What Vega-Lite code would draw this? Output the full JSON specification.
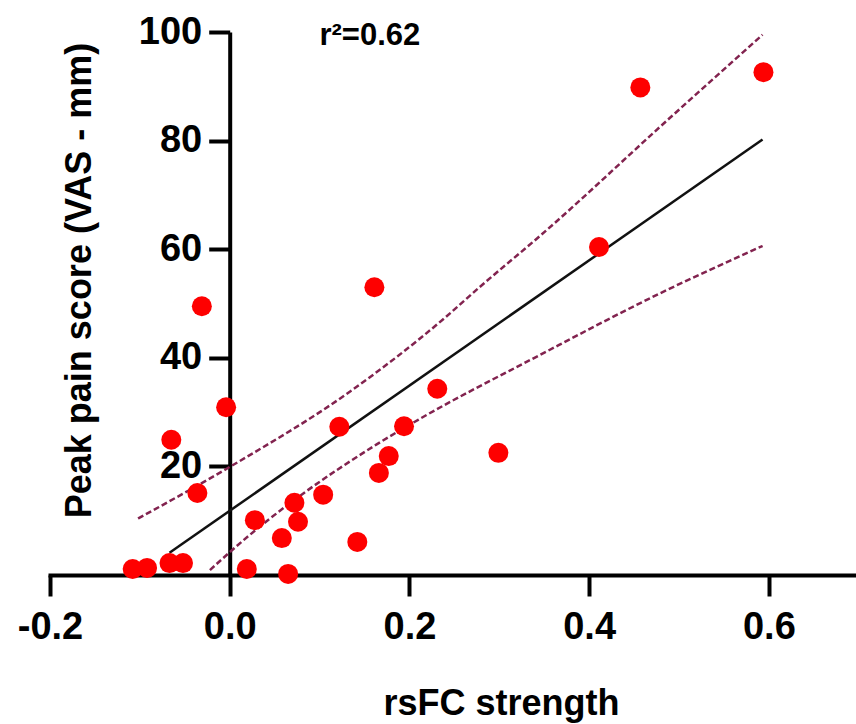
{
  "$schema": "https://vega.github.io/schema/vega-lite/v6.json",
  "width": 806,
  "height": 543,
  "autosize": {"type": "none"},
  "padding": {"left": 50, "top": 32, "right": 0, "bottom": 149},
  "background": "white",
  "config": {"view": {"stroke": null}, "font": "Liberation Sans"},
  "datasets": {
    "points": [
      {"x": 0.594, "y": 92.6}, {"x": 0.457, "y": 89.8}, {"x": 0.411, "y": 60.4},
      {"x": 0.161, "y": 53.0}, {"x": -0.031, "y": 49.5}, {"x": -0.004, "y": 30.9},
      {"x": 0.231, "y": 34.3}, {"x": 0.122, "y": 27.3}, {"x": 0.194, "y": 27.4},
      {"x": -0.065, "y": 24.9}, {"x": 0.177, "y": 21.9}, {"x": 0.166, "y": 18.8},
      {"x": 0.299, "y": 22.5}, {"x": -0.036, "y": 15.1}, {"x": 0.104, "y": 14.8},
      {"x": 0.072, "y": 13.3}, {"x": 0.076, "y": 9.8}, {"x": 0.028, "y": 10.1},
      {"x": 0.058, "y": 6.8}, {"x": 0.142, "y": 6.1}, {"x": 0.019, "y": 1.1},
      {"x": 0.065, "y": 0.2}, {"x": -0.108, "y": 1.1}, {"x": -0.092, "y": 1.3},
      {"x": -0.067, "y": 2.2}, {"x": -0.052, "y": 2.2}
    ],
    "fit": [{"x": -0.067, "y": 4.1}, {"x": 0.593, "y": 80.2}],
    "upper": [
      {"x": -0.102, "y": 10.4}, {"x": 0.0, "y": 19.9}, {"x": 0.134, "y": 33.8},
      {"x": 0.239, "y": 47.3}, {"x": 0.278, "y": 53.0}, {"x": 0.345, "y": 62.4},
      {"x": 0.49, "y": 84.2}, {"x": 0.593, "y": 99.5}
    ],
    "lower": [
      {"x": -0.022, "y": 0.9}, {"x": 0.0, "y": 4.2}, {"x": 0.164, "y": 24.1},
      {"x": 0.211, "y": 28.7}, {"x": 0.345, "y": 40.5}, {"x": 0.478, "y": 51.8},
      {"x": 0.593, "y": 60.6}
    ],
    "note": [{"x": 0.156, "y": 97.6, "label": "r²=0.62"}]
  },
  "encoding": {
    "x": {
      "field": "x", "type": "quantitative",
      "scale": {"domain": [-0.2, 0.697], "nice": false, "zero": false},
      "axis": {
        "values": [-0.2, 0, 0.2, 0.4, 0.6],
        "labelExpr": "datum.value < 0 ? '-' + format(-datum.value, '.1f') : format(datum.value, '.1f')",
        "title": "rsFC strength",
        "grid": false, "zindex": 0,
        "domainColor": "black", "domainWidth": 4, "domainCap": "square",
        "tickColor": "black", "tickWidth": 4, "tickSize": 21,
        "labelFont": "Liberation Sans", "labelFontSize": 38, "labelFontWeight": "bold",
        "labelColor": "black", "labelPadding": 12, "labelFlush": false, "labelOverlap": false,
        "titleFont": "Liberation Sans", "titleFontSize": 36, "titleFontWeight": "bold",
        "titleColor": "black", "titleX": 451, "titleY": 139,
        "titleBaseline": "alphabetic", "titleAlign": "center"
      }
    },
    "y": {
      "field": "y", "type": "quantitative",
      "scale": {"domain": [0, 100], "nice": false},
      "axis": {
        "values": [20, 40, 60, 80, 100],
        "offset": -179.7,
        "title": "Peak pain score (VAS - mm)",
        "grid": false, "zindex": 0,
        "domainColor": "black", "domainWidth": 4,
        "tickColor": "black", "tickWidth": 4, "tickSize": 21,
        "labelFont": "Liberation Sans", "labelFontSize": 38, "labelFontWeight": "bold",
        "labelColor": "black", "labelPadding": 7, "labelFlush": false, "labelOverlap": false,
        "titleFont": "Liberation Sans", "titleFontSize": 36, "titleFontWeight": "bold",
        "titleColor": "black", "titleX": -139, "titleY": 248, "titleAngle": 270,
        "titleBaseline": "alphabetic", "titleAlign": "center"
      }
    }
  },
  "layer": [
    {"data": {"name": "upper"}, "mark": {"type": "line", "color": "#82234f", "strokeWidth": 2.5, "strokeDash": [6, 3], "interpolate": "monotone"}},
    {"data": {"name": "lower"}, "mark": {"type": "line", "color": "#82234f", "strokeWidth": 2.5, "strokeDash": [6, 3], "interpolate": "monotone"}},
    {"data": {"name": "fit"}, "mark": {"type": "line", "color": "#111111", "strokeWidth": 2.5}},
    {"data": {"name": "points"}, "mark": {"type": "point", "filled": true, "shape": "circle", "size": 400, "color": "#fe0000", "opacity": 1}},
    {"data": {"name": "note"}, "mark": {"type": "text", "align": "center", "baseline": "alphabetic", "fontSize": 31, "fontWeight": "bold", "font": "Liberation Sans", "color": "black"}, "encoding": {"text": {"field": "label"}}}
  ]
}
